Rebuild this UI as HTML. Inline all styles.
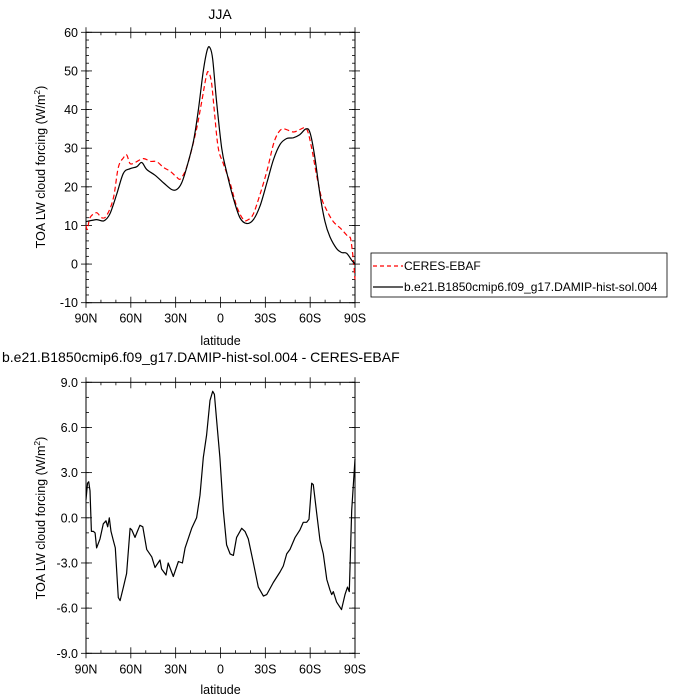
<!DOCTYPE html>
<html><head><meta charset="utf-8"><style>body{margin:0;background:#fff}svg{display:block;font-family:"Liberation Sans",sans-serif}</style></head>
<body>
<svg id="s" width="700" height="700" viewBox="0 0 700 700">
<text x="220" y="19" font-size="14" text-anchor="middle">JJA</text>
<text x="2" y="362" font-size="14">b.e21.B1850cmip6.f09_g17.DAMIP-hist-sol.004 - CERES-EBAF</text>
<g id="top"></g>
<g id="bot"></g>
<g>
<rect x="371" y="253" width="296" height="44" fill="none" stroke="#000" stroke-width="0.8"/>
<line x1="373" y1="266" x2="403" y2="266" stroke="#f00" stroke-dasharray="4,3" stroke-width="1.2"/>
<text x="404" y="270" font-size="12">CERES-EBAF</text>
<line x1="373" y1="287" x2="403" y2="287" stroke="#000" stroke-width="1.2"/>
<text x="404" y="291" font-size="12">b.e21.B1850cmip6.f09_g17.DAMIP-hist-sol.004</text>
</g>
</svg>
<script>
const xTickVals=[90,60,30,0,-30,-60,-90];
const xTickLabels=["90N","60N","30N","0","30S","60S","90S"];
const modelLat=[90,83,78,74,69.5,65,60.5,56,52.7,49.4,43.8,38,32.7,29.3,26,22.6,18,14.8,11.5,8.8,7,5.2,2.6,-0.8,-4,-8.6,-13,-17.5,-22,-26.4,-31,-35.4,-39.9,-44.3,-48.7,-53,-57.2,-59.9,-63,-66.6,-69.9,-73.3,-77.7,-81,-84.4,-87.8,-90];
const modelVal=[11,11.5,11.2,13,18,23.5,24.7,25.2,26.3,24.5,23,21,19.3,19.3,21,25,32,40,50,55.5,56,53,42,30,24,17,12,10.5,11.5,15,21,27,31,32.5,32.7,33.5,35,34,28,18,11,7,4,3,2.8,1,0];
const ceresLat=[90,89,87.3,83,79.6,76.3,71.7,68.4,65,62.8,60.5,57.2,51.6,47,42.7,38,33.6,29.3,27,23.7,20.4,16,12.6,9.3,7.8,6,4.2,1.5,-1.9,-6.4,-10.8,-15.3,-18.6,-22,-26.4,-31,-35.4,-38.7,-42.1,-48.7,-53,-57.6,-61,-64.3,-67.7,-71,-75.5,-81,-85.5,-87.1,-88.9,-90];
const ceresVal=[10,9,12,13.3,12,12.5,17,25,27.5,28.3,26,26.3,27.3,26.6,26.5,25,24,22.5,22,24,28,35,42,49,49.5,47,40,30,26,21,15,11.5,11.5,13,18,24,31,34,35,34.2,34.8,35,30,23,17,14,11,9,7,6.5,1,-4];
const diffLat=[90,89,88.2,87.3,86.4,85,83.9,82.9,80.6,78.4,76.6,75.5,74.4,73.3,71.7,70.4,68.4,67.2,65,62.8,60.5,59.4,57.2,55.6,53.9,52,49.4,46,43.8,40.5,39.4,36.5,35,31.6,28.2,25.5,23.7,19.3,16,13.7,11.5,9.3,7,5.2,4.1,2.6,0.4,-1.9,-4.1,-6.4,-8.6,-10.8,-14.2,-16.4,-18.6,-22,-25.3,-28.7,-30.9,-35.3,-39.8,-42,-44.3,-46.5,-49.9,-53.2,-55.4,-57.7,-59.2,-61,-62.1,-64.4,-66.6,-68.8,-71.1,-73.3,-74.4,-75.5,-77.7,-81,-83.3,-85,-86.2,-87.8,-90];
const diffVal=[1.2,2.3,2.4,1.8,-0.9,-0.9,-1.0,-2.0,-1.4,-0.4,-0.2,-0.6,0.0,-0.9,-1.5,-2.0,-5.3,-5.5,-4.6,-3.7,-0.7,-0.8,-1.3,-0.9,-0.5,-0.6,-2.1,-2.6,-3.3,-2.8,-3.4,-3.8,-3.0,-3.9,-2.9,-3.0,-2.0,-0.7,0.0,1.5,4,5.5,7.8,8.4,8.2,6.5,4,0.5,-1.8,-2.4,-2.5,-1.3,-0.7,-0.9,-1.4,-3.0,-4.6,-5.2,-5.1,-4.3,-3.6,-3.2,-2.4,-2.1,-1.3,-0.8,-0.3,-0.3,-0.1,2.3,2.2,0.3,-1.5,-2.4,-4.1,-4.8,-5.1,-4.9,-5.6,-6.1,-5.1,-4.6,-4.9,0.5,3.9];
const topYTicks=[60,50,40,30,20,10,0,-10];
const topYLabels=["60","50","40","30","20","10","0","-10"];
const botYTicks=[9,6,3,0,-3,-6,-9];
const botYLabels=["9.0","6.0","3.0","0.0","-3.0","-6.0","-9.0"];
const NS="http://www.w3.org/2000/svg";
function mk(p,t,a){const e=document.createElementNS(NS,t);for(const k in a)e.setAttribute(k,a[k]);p.appendChild(e);return e;}
function smoothPath(pts){
  let d='M'+pts[0][0].toFixed(1)+','+pts[0][1].toFixed(1);
  for(let i=0;i<pts.length-1;i++){
    const p0=pts[Math.max(0,i-1)],p1=pts[i],p2=pts[i+1],p3=pts[Math.min(pts.length-1,i+2)];
    const c1x=p1[0]+(p2[0]-p0[0])/6,c1y=p1[1]+(p2[1]-p0[1])/6;
    const c2x=p2[0]-(p3[0]-p1[0])/6,c2y=p2[1]-(p3[1]-p1[1])/6;
    d+='C'+c1x.toFixed(1)+','+c1y.toFixed(1)+' '+c2x.toFixed(1)+','+c2y.toFixed(1)+' '+p2[0].toFixed(1)+','+p2[1].toFixed(1);
  }
  return d;
}
function panel(g,top,bot,ymin,ymax,yT,yL,yMinorStep,series,labelY,ylabY,smooth){
  const L=86,R=355;
  const X=v=>L+(90-v)/180*(R-L);
  const Y=v=>top+(ymax-v)/(ymax-ymin)*(bot-top);
  const fr=mk(g,'rect',{x:L,y:top,width:R-L,height:bot-top,fill:'none',stroke:'#000','stroke-width':1});
  
  
  for(let v=90;v>=-90;v-=10){const maj=v%30===0;const len=maj?6:3;
    mk(g,'line',{x1:X(v),x2:X(v),y1:bot,y2:bot-len,stroke:'#000','stroke-width':0.8});
    mk(g,'line',{x1:X(v),x2:X(v),y1:top,y2:top+len,stroke:'#000','stroke-width':0.8});}
  for(let v=ymin;v<=ymax+1e-6;v+=yMinorStep){
    mk(g,'line',{x1:L,x2:L+3,y1:Y(v),y2:Y(v),stroke:'#000','stroke-width':0.8});
    mk(g,'line',{x1:R,x2:R-3,y1:Y(v),y2:Y(v),stroke:'#000','stroke-width':0.8});}
  yT.forEach((v,i)=>{
    mk(g,'line',{x1:L-5,x2:L+6,y1:Y(v),y2:Y(v),stroke:'#000','stroke-width':0.8});
    mk(g,'line',{x1:R+5,x2:R-6,y1:Y(v),y2:Y(v),stroke:'#000','stroke-width':0.8});
    const t=mk(g,'text',{x:L-8,y:Y(v)+4.5,'font-size':12.5,'text-anchor':'end'});t.textContent=yL[i];
    
    });
  xTickVals.forEach((v,i)=>{
    mk(g,'line',{x1:X(v),x2:X(v),y1:bot,y2:bot+5,stroke:'#000','stroke-width':0.8});
    mk(g,'line',{x1:X(v),x2:X(v),y1:top,y2:top-5,stroke:'#000','stroke-width':0.8});
    const t=mk(g,'text',{x:X(v),y:bot+20,'font-size':12.5,'text-anchor':'middle'});t.textContent=xTickLabels[i];
    
    });
  const xl=mk(g,'text',{x:(L+R)/2,y:labelY,'font-size':12.5,'text-anchor':'middle'});xl.textContent='latitude';
  
  
  const yl=mk(g,'text',{transform:`translate(45,${ylabY}) rotate(-90)`,'font-size':12.5,'text-anchor':'middle'});
  yl.innerHTML='TOA LW cloud forcing (W/m<tspan font-size="8.5" dy="-5">2</tspan><tspan dy="5">)</tspan>';
  
  
  series.forEach(s=>{
    const pts=s.lat.map((la,i)=>[X(la),Y(s.val[i])]);
    const d=smooth?smoothPath(pts):pts.map((p,i)=>(i?'L':'M')+p[0].toFixed(1)+','+p[1].toFixed(1)).join('');
    const p=mk(g,'path',{d:d,fill:'none',stroke:s.color,'stroke-width':1.2,'stroke-linejoin':'round'});
    if(s.dash)p.setAttribute('stroke-dasharray',s.dash);
    
    });
}
panel(document.getElementById('top'),32.3,302.7,-10,60,topYTicks,topYLabels,2,
 [{lat:ceresLat,val:ceresVal,color:'#f00',dash:'5,3',name:'ceres-line'},{lat:modelLat,val:modelVal,color:'#000',name:'model-line'}],345,167,true);
panel(document.getElementById('bot'),382.3,653.3,-9,9,botYTicks,botYLabels,1,
 [{lat:diffLat,val:diffVal,color:'#000',name:'difference-line'}],694,518,false);
</script>
</body></html>
